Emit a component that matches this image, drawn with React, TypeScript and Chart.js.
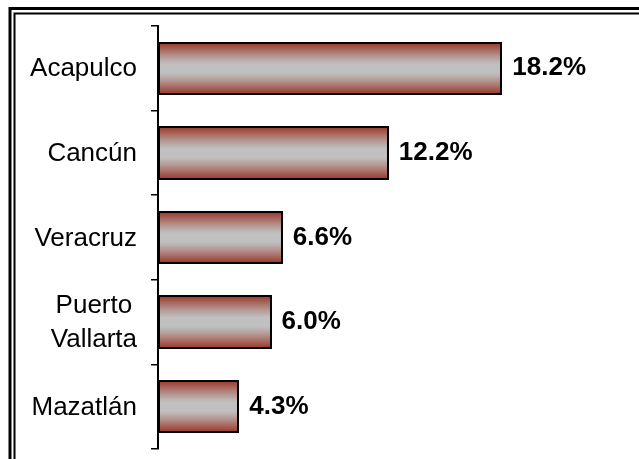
import React, { useEffect, useRef } from "react";
import { Chart, registerables } from "chart.js";

Chart.register(...registerables);

const categories: (string | string[])[] = ["Acapulco", "Cancún", "Veracruz", ["Puerto", "Vallarta"], "Mazatlán"];
const values: number[] = [18.2, 12.2, 6.6, 6.0, 4.3];
const valueLabels: string[] = ["18.2%", "12.2%", "6.6%", "6.0%", "4.3%"];

const FONT = "'Liberation Sans', Arial, sans-serif";
const BAR_PCT = 0.63;
const DARK = [152, 48, 32];
const LIGHT = [192, 192, 192];

function shade(t: number): string {
  const d = Math.abs(2 * t - 1);
  const s = d < 0.15 ? 0 : Math.pow((d - 0.15) / 0.85, 1.2);
  const c = LIGHT.map((l, i) => Math.round(l + (DARK[i] - l) * s));
  return `rgb(${c[0]},${c[1]},${c[2]})`;
}

export default function App() {
  const ref = useRef<HTMLCanvasElement | null>(null);
  useEffect(() => {
    document.body.style.margin = "0";
    const canvas = ref.current!;
    const framePlugin = {
      id: "frame",
      beforeDraw(chart: any) {
        const ctx = chart.ctx;
        ctx.save();
        ctx.fillStyle = "#fff";
        ctx.fillRect(0, 0, chart.width, chart.height);
        ctx.strokeStyle = "#000";
        ctx.lineWidth = 3;
        ctx.beginPath();
        ctx.moveTo(10, chart.height + 5);
        ctx.lineTo(10, 8.5);
        ctx.lineTo(chart.width + 5, 8.5);
        ctx.stroke();
        ctx.lineWidth = 2;
        ctx.beginPath();
        ctx.moveTo(14.5, chart.height + 5);
        ctx.lineTo(14.5, 13.5);
        ctx.lineTo(chart.width + 5, 13.5);
        ctx.stroke();
        ctx.restore();
      },
      beforeDatasetsDraw(chart: any) {
        const ctx = chart.ctx;
        const meta = chart.getDatasetMeta(0);
        ctx.save();
        meta.data.forEach((bar: any) => {
          const top = Math.round(bar.y - bar.height / 2);
          const bottom = Math.round(bar.y + bar.height / 2);
          const left = Math.round(Math.min(bar.base, bar.x));
          const right = Math.round(Math.max(bar.base, bar.x));
          const h = bottom - top;
          for (let r = 0; r < h; r++) {
            ctx.fillStyle = shade((r + 0.5) / h);
            ctx.fillRect(left, top + r, right - left, 1);
          }
          ctx.strokeStyle = "#000";
          ctx.lineWidth = 2;
          ctx.strokeRect(left + 1, top + 1, right - left - 2, h - 2);
        });
        ctx.restore();
        return false;
      },
      afterDraw(chart: any) {
        const ctx = chart.ctx;
        const meta = chart.getDatasetMeta(0);
        ctx.save();
        ctx.fillStyle = "#000";
        ctx.textBaseline = "middle";
        ctx.font = `bold 26px ${FONT}`;
        ctx.textAlign = "left";
        meta.data.forEach((bar: any, i: number) => {
          ctx.fillText(valueLabels[i], bar.x + 10, bar.y);
        });
        ctx.font = `26px ${FONT}`;
        ctx.textAlign = "center";
        const rightEdge = 137;
        const lineH = 34;
        const yScale = chart.scales.y;
        categories.forEach((c, i) => {
          const lines = Array.isArray(c) ? c : [c];
          const w = Math.max(...lines.map((l) => ctx.measureText(l).width));
          const cx = rightEdge - w / 2;
          const cy = yScale.getPixelForValue(i);
          lines.forEach((l, k) => {
            const y = cy + (k - (lines.length - 1) / 2) * lineH;
            ctx.fillText(l, cx, y + 1);
          });
        });
        ctx.restore();
      },
    };

    const chart = new Chart(canvas, {
      type: "bar",
      data: {
        labels: categories as any,
        datasets: [
          {
            data: values,
            borderColor: "#000",
            borderWidth: 2,
            borderSkipped: false,
            categoryPercentage: 1,
            barPercentage: BAR_PCT,
            backgroundColor: "#c0c0c0",
          },
        ],
      },
      options: {
        indexAxis: "y",
        responsive: false,
        animation: false,
        devicePixelRatio: 1,
        layout: { padding: { top: 26, bottom: 10, right: 8, left: 0 } },
        plugins: { legend: { display: false }, tooltip: { enabled: false } },
        scales: {
          x: { display: false, min: 0, max: 25 },
          y: {
            afterFit: (s: any) => {
              s.width = 158;
            },
            grid: {
              drawOnChartArea: false,
              drawTicks: true,
              tickLength: 7,
              color: "#000",
              lineWidth: 1.5,
              offset: true,
            },
            border: { display: true, color: "#000", width: 2 },
            ticks: { display: false },
          },
        },
      },
      plugins: [framePlugin],
    } as any);
    return () => chart.destroy();
  }, []);
  return (
    <div style={{ position: "absolute", left: 0, top: 0, width: 639, height: 459 }}>
      <canvas ref={ref} width={639} height={459} style={{ width: 639, height: 459, display: "block" }} />
    </div>
  );
}
